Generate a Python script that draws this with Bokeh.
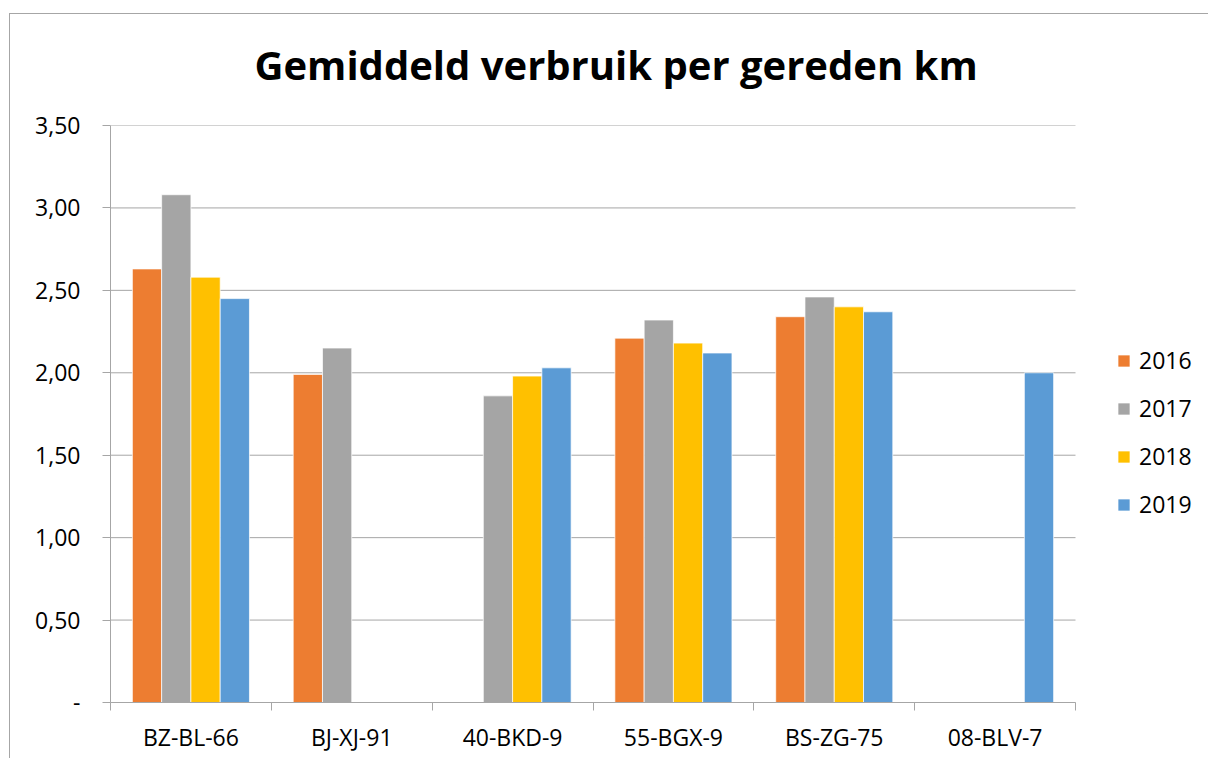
from bokeh.plotting import figure
from bokeh.models import FixedTicker, Legend, LegendItem, Range1d, ColumnDataSource
from bokeh.embed import file_html
from bokeh.resources import INLINE

nan = float("nan")

categories = ["BZ-BL-66", "BJ-XJ-91", "40-BKD-9", "55-BGX-9", "BS-ZG-75", "08-BLV-7"]
years = ["2016", "2017", "2018", "2019"]
v2016 = [2.63, 1.99, nan, 2.21, 2.34, nan]
v2017 = [3.08, 2.15, 1.86, 2.32, 2.46, nan]
v2018 = [2.58, nan, 1.98, 2.18, 2.40, nan]
v2019 = [2.45, nan, 2.03, 2.12, 2.37, 2.00]
y_ticks = [0, 0.5, 1.0, 1.5, 2.0, 2.5, 3.0, 3.5]
y_tick_labels = ["-", "0,50", "1,00", "1,50", "2,00", "2,50", "3,00", "3,50"]

series = [v2016, v2017, v2018, v2019]
colors = ["#ED7D31", "#A5A5A5", "#FFC000", "#5B9BD5"]

FONT = "Open Sans"
GRID = "#A6A6A6"
W, H = 1208, 758
LEFT, RIGHT, TOP, BOTTOM = 110, 2, 125, 56
PLOT_PX = 965  # pixel width used by the categories; the rest holds the legend
frame_w = W - LEFT - RIGHT
n = len(categories)
x_end = n * frame_w / PLOT_PX

p = figure(width=W, height=H, output_backend="svg", toolbar_location=None,
           x_range=Range1d(0, x_end), y_range=Range1d(0, 3.5),
           min_border_left=LEFT, min_border_right=RIGHT, min_border_top=TOP,
           min_border_bottom=BOTTOM)
# chart-area border (left and top edges) drawn behind the transparent canvas border
line = "linear-gradient(%s, %s)" % (GRID, GRID)
p.styles = {"margin": "0px",
            "background": line + " 9px 13px / 1px 100% no-repeat, " +
                          line + " 9px 13px / 100% 1px no-repeat"}
p.outline_line_color = None
p.background_fill_color = "white"
p.border_fill_color = None
p.border_fill_alpha = 0

# title
p.title.text = "Gemiddeld verbruik per gereden km"
p.title.text_font = FONT
p.title.text_font_style = "bold"
p.title.text_font_size = "40px"
p.title.text_color = "#000000"
p.title.align = "left"
p.title.offset = 144
p.title.standoff = 68

# horizontal gridlines, limited to the category area
p.segment(x0=[0] * len(y_ticks), x1=[n] * len(y_ticks), y0=y_ticks, y1=y_ticks,
          line_color=GRID, line_width=1)

bar_w = 0.182
offsets = [-1.5 * bar_w, -0.5 * bar_w, 0.5 * bar_w, 1.5 * bar_w]
renderers = []
for vals, col, off in zip(series, colors, offsets):
    xs = [i + 0.5 + off for i in range(n)]
    src = ColumnDataSource(dict(x=xs, top=vals))
    r = p.vbar(x="x", top="top", bottom=0, width=bar_w, source=src,
               fill_color=col, line_color="white", line_alpha=0.7, line_width=1)
    renderers.append(r)

# x axis
p.xaxis.bounds = (0, n)
p.xaxis.ticker = FixedTicker(ticks=[i + 0.5 for i in range(n)],
                             minor_ticks=list(range(n + 1)))
p.xaxis.major_label_overrides = {i + 0.5: c for i, c in enumerate(categories)}
p.xaxis.major_tick_line_color = None
p.xaxis.minor_tick_line_color = GRID
p.xaxis.minor_tick_out = 8
p.xaxis.minor_tick_in = 0
p.xaxis.axis_line_color = GRID
p.xaxis.major_label_text_font = FONT
p.xaxis.major_label_text_font_size = "23px"
p.xaxis.major_label_text_color = "#000000"
p.xaxis.major_label_standoff = 10

# y axis
p.yaxis.ticker = FixedTicker(ticks=y_ticks, minor_ticks=[])
p.yaxis.major_label_overrides = {t: l for t, l in zip(y_ticks, y_tick_labels)}
p.yaxis.axis_line_color = GRID
p.yaxis.major_tick_line_color = GRID
p.yaxis.major_tick_out = 8
p.yaxis.major_tick_in = 0
p.yaxis.minor_tick_line_color = None
p.yaxis.major_label_text_font = FONT
p.yaxis.major_label_text_font_size = "23px"
p.yaxis.major_label_text_color = "#000000"
p.yaxis.major_label_standoff = 22

p.xgrid.grid_line_color = None
p.ygrid.grid_line_color = None

legend = Legend(items=[LegendItem(label=y, renderers=[r]) for y, r in zip(years, renderers)],
                location=(1006, 182))
legend.border_line_color = None
legend.background_fill_alpha = 0
legend.padding = 0
legend.margin = 0
legend.spacing = 16
legend.glyph_width = 15
legend.glyph_height = 15
legend.label_height = 20
legend.label_standoff = 8
legend.label_text_font = FONT
legend.label_text_font_size = "23px"
legend.label_text_color = "#000000"
legend.label_text_baseline = "middle"
p.add_layout(legend, "center")

open("out.html", "w").write(file_html(p, INLINE))
